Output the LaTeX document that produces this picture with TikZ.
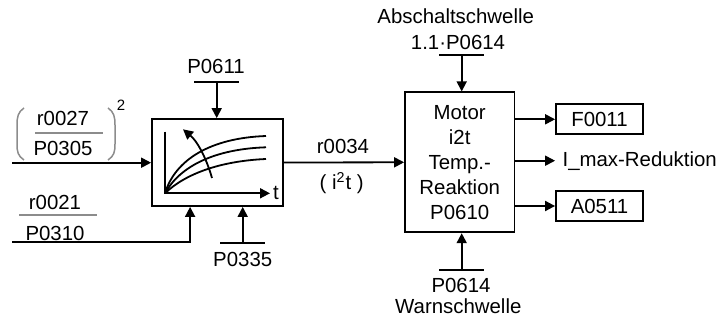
\documentclass[tikz,border=0pt]{standalone}
\usepackage{fontspec}
\setmainfont{Liberation Sans}
\usetikzlibrary{arrows.meta}

% short bar under/over a parameter name
\newcommand{\parbar}[1]{\draw ([xshift=-11.25pt]#1) -- ([xshift=11.25pt]#1);}

\begin{document}
\begin{tikzpicture}[
    x=0.5pt, y=-0.5pt,
    line width=0.9pt,
    font=\fontsize{10.2}{12.5}\selectfont,
    % Style for signal arrows
    sig/.style={-{Triangle[length=5pt,width=5pt]}},
    block/.style={draw, inner sep=0pt, align=center},
    txt/.style={inner sep=0pt},
    frac/.style={draw=gray!90, line width=0.75pt}
]
\useasboundingbox (0,0) rectangle (722,320);

    % ==========================
    % i2t model block
    % ==========================
    \node[block, minimum width=65.5pt, minimum height=43.5pt] (filter) at (217.5,162.5) {};

    % curves inside the block
    \coordinate (origin) at (165,193.3);
    \draw[sig] (165,131.7) -- (origin) -- (270,193.3);
    \node[txt] (taxis) at (276,193) {t};
    \draw (origin) .. controls (175,160) and (210,138) .. (266,136);
    \draw (origin) .. controls (180,166) and (215,149) .. (266,147.3);
    \draw (origin) .. controls (185,174) and (220,161) .. (266,159);
    \draw[sig] (212,178) .. controls (206,157) and (197,141) .. (183,129.3);

    % P0611 from above
    \node[txt] (p0611) at (216,66) {P0611};
    \coordinate (b0611) at (216.7,81.7);
    \parbar{b0611}
    \draw[sig] (b0611) -- (b0611 |- filter.north);

    % ==========================
    % Inputs on the left
    % ==========================
    \node[txt] (r0027) at (63,118) {r0027};
    \node[txt] (p0305) at (63,148) {P0305};
    \draw[frac] (35,133) -- (103,133);
    \draw[frac] (24,108) .. controls (18,112) and (17,117) .. (17,125) -- (17,144)
        .. controls (17,152) and (18,156) .. (24,160);
    \draw[frac] (108,108) .. controls (114,112) and (115,117) .. (115,125) -- (115,144)
        .. controls (115,152) and (114,156) .. (108,160);
    \node[txt, font=\fontsize{7.5}{9}\selectfont] (sq) at (121,105) {2};
    \coordinate (in1) at (12,162.7);
    \draw[sig] (in1) -- (in1 -| filter.west);

    \node[txt] (r0021) at (55,202) {r0021};
    \node[txt] (p0310) at (55,233) {P0310};
    \draw[frac] (19,215) -- (97,215);
    \coordinate (in2) at (12,242.3);
    \draw[sig] (in2) -| ([xshift=19.5pt]filter.south west);

    % P0335 from below
    \coordinate (b0335) at (242.7,243);
    \parbar{b0335}
    \node[txt] (p0335) at (242.7,259) {P0335};
    \draw[sig] (b0335) -- (b0335 |- filter.south);

    % ==========================
    % Motor temperature reaction
    % ==========================
    \node[block, minimum width=54.7pt, minimum height=70pt] (motor) at (459.7,162.3)
        {Motor\\i2t\\Temp.-\\Reaktion\\P0610};
    \draw[sig] (filter.east) -- (motor.west);
    \node[txt] (r0034) at (343,146.7) {r0034};
    \node[txt] (i2t) at (341.7,183.3) {( i\textsuperscript{2}t )};

    % threshold from above
    \node[txt] (abschalt) at (455.7,16.7) {Abschaltschwelle};
    \node[txt] (p0614a) at (458,42.7) {1.1·P0614};
    \coordinate (b0614a) at (461.7,55);
    \parbar{b0614a}
    \draw[sig] (b0614a) -- (b0614a |- motor.north);

    % threshold from below
    \coordinate (b0614w) at (461.7,270);
    \parbar{b0614w}
    \node[txt] (p0614w) at (461,285) {P0614};
    \node[txt] (warn) at (458.3,306) {Warnschwelle};
    \draw[sig] (b0614w) -- (b0614w |- motor.south);

    % ==========================
    % Outputs
    % ==========================
    \node[block, minimum width=43.5pt, minimum height=15pt] (f0011) at (599.5,119.3) {F0011};
    \node[block, minimum width=43.5pt, minimum height=15pt] (a0511) at (599.5,206) {A0511};
    \node[txt, anchor=west] (imax) at (561.7,160.7) {I\_max-Reduktion};
    \draw[sig] (motor.east |- f0011.west) -- (f0011.west);
    \draw[sig] (motor.east |- imax.west) -- ([xshift=-3.3pt]imax.west);
    \draw[sig] (motor.east |- a0511.west) -- (a0511.west);

\end{tikzpicture}
\end{document}
